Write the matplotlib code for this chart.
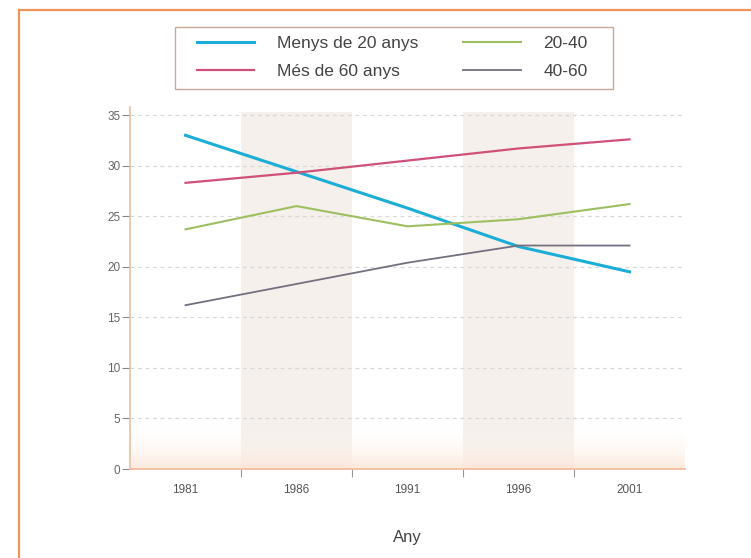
import matplotlib
matplotlib.use("Agg")
import matplotlib.pyplot as plt
import numpy as np
from matplotlib.lines import Line2D
from matplotlib.patches import Rectangle
from matplotlib.colors import LinearSegmentedColormap

plt.rcParams['font.family'] = ['Liberation Sans', 'DejaVu Sans']

years = ["1981", "1986", "1991", "1996", "2001"]
menys20 = [33.0, 29.4, 25.8, 22.0, 19.5]
mes60 = [28.3, 29.3, 30.5, 31.7, 32.6]
s20_40 = [23.7, 26.0, 24.0, 24.7, 26.2]
s40_60 = [16.2, 18.3, 20.4, 22.1, 22.1]
yticks = [0, 5, 10, 15, 20, 25, 30, 35]

W, H = 751, 558
fig = plt.figure(figsize=(W/100, H/100), dpi=100)
ax = fig.add_axes([130/W, 1-469/H, 555/W, (469-107)/H])
x = np.arange(len(years))

# shaded category bands
for i in (1, 3):
    ax.axvspan(i-0.5, i+0.5, ymin=0, ymax=0.985, color="#f5f0eb", zorder=0, lw=0)
# bottom gradient
grad = np.linspace(0, 1, 100).reshape(-1, 1)
cm = LinearSegmentedColormap.from_list("g", [(1, 1, 1, 0), (0.99, 0.90, 0.84, 0.85)])
ax.imshow(grad, extent=(-0.5, 4.5, 0, 4.2), aspect="auto", cmap=cm, zorder=0.5, origin="upper")

for yv in yticks[1:]:
    ax.axhline(yv, color="#d8d8d8", lw=0.9, ls=(0, (3, 3)), zorder=1)

l1, = ax.plot(x, menys20, color="#1aaed6", lw=2.2, zorder=3)
l2, = ax.plot(x, mes60, color="#cf5078", lw=1.6, zorder=3)
l3, = ax.plot(x, s20_40, color="#9dbf62", lw=1.5, zorder=3)
l4, = ax.plot(x, s40_60, color="#74707e", lw=1.3, zorder=3)

ax.set_xlim(-0.5, 4.5)
ax.set_ylim(0, 35.8)
ax.set_yticks(yticks)
ax.set_xticks(x)
ax.set_xticklabels(years)
ax.set_xticks([0.5, 1.5, 2.5, 3.5], minor=True)
ax.tick_params(axis="x", which="major", length=0, pad=11, labelsize=8.5, labelcolor="#555555")
ax.tick_params(axis="x", which="minor", length=6, color="#999999", width=0.8)
ax.tick_params(axis="y", length=6, color="#888888", labelsize=8.5, labelcolor="#666666", pad=1)
for s in ("top", "right"):
    ax.spines[s].set_visible(False)
ax.spines["left"].set_color("#e8c0a0")
ax.spines["bottom"].set_color("#f0b898")
ax.spines["left"].set_linewidth(1.2)
ax.spines["bottom"].set_linewidth(1.2)
ax.set_facecolor("white")
ax.set_xlabel("Any", fontsize=12, color="#444444", labelpad=24)

# legend box
fig.add_artist(Rectangle((175/W, 1-89/H), (613-175)/W, (89-27)/H, transform=fig.transFigure,
                         facecolor="white", edgecolor="#c8a898", lw=1.0, zorder=5))
leg = fig.legend([l1, l2, l3, l4], ["Menys de 20 anys", "Més de 60 anys", "20-40", "40-60"],
                 ncol=2, loc="upper left", bbox_to_anchor=(197/W, 1-36/H),
                 frameon=False, fontsize=12.5, handlelength=3.3, columnspacing=2.6,
                 labelspacing=0.75, borderpad=0, borderaxespad=0, handletextpad=1.3)
leg.set_zorder(6)
for t in leg.get_texts():
    t.set_color("#444444")

# orange frame
fig.add_artist(Line2D([19/W, 1.0], [1-10/H, 1-10/H], color="#f0935a", lw=1.6, transform=fig.transFigure))
fig.add_artist(Line2D([19/W, 19/W], [0, 1-10/H], color="#f0935a", lw=1.6, transform=fig.transFigure))

fig.savefig("out.png", dpi=100)
